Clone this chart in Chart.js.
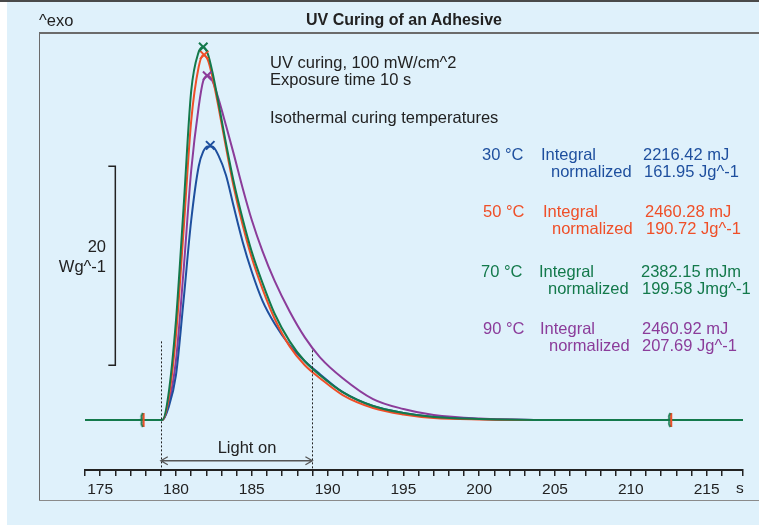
<!DOCTYPE html>
<html>
<head>
<meta charset="utf-8">
<script src="https://cdn.jsdelivr.net/npm/chart.js@4.4.1/dist/chart.umd.min.js"></script>
<style>
    body { margin: 0; background: #fff; }
    #wrap { position: relative; width: 759px; height: 525px; overflow: hidden;
            font-family: 'Liberation Sans', Arial, sans-serif; color: #222; }
    #panel { position: absolute; left: 7px; top: 0; width: 752px; height: 525px; background: #dff1fb; }
    .ln { position: absolute; }
    #chart { position: absolute; left: 0; top: 0; }
    .t { position: absolute; font-size: 16.5px; line-height: 16.5px; white-space: nowrap; }
    .c30 { color: #1e4f9e; } .c50 { color: #ef4f28; } .c70 { color: #13794b; } .c90 { color: #8b3c9a; }
</style>
</head>
<body>
<div id="wrap">
    <div id="panel"></div>
    <div class="ln" style="left:0;top:0;width:759px;height:2px;background:#4a4a4a"></div>
    <div class="ln" style="left:39px;top:32px;width:720px;height:2px;background:#6b6b6b"></div>
    <div class="ln" style="left:39px;top:32px;width:1px;height:469px;background:#6b6b6b"></div>
    <div class="ln" style="left:39px;top:500px;width:720px;height:1px;background:#8a8a8a"></div>
    <canvas id="chart" width="759" height="525"></canvas>

    <div class="t" style="left:39px;top:12px">^exo</div>
    <div class="t" style="left:404px;top:12px;transform:translateX(-50%);font-weight:bold;font-size:16px">UV Curing of an Adhesive</div>
    <div class="t" style="left:270px;top:53.5px">UV curing, 100 mW/cm^2</div>
    <div class="t" style="left:270px;top:71px">Exposure time 10 s</div>
    <div class="t" style="left:270px;top:109px">Isothermal curing temperatures</div>

    <div class="t" style="right:653px;top:238px">20</div>
    <div class="t" style="right:653px;top:257.5px">Wg^-1</div>
    <div class="t" style="left:247px;top:438.5px;transform:translateX(-50%)">Light on</div>
    <div class="t" style="left:736px;top:480px;font-size:15.5px">s</div>

    <div class="t c30" style="left:482px;top:146px">30 °C</div>
    <div class="t c30" style="left:541px;top:146px">Integral</div>
    <div class="t c30" style="left:643px;top:146px">2216.42 mJ</div>
    <div class="t c30" style="left:551px;top:163px">normalized</div>
    <div class="t c30" style="left:644px;top:163px">161.95 Jg^-1</div>

    <div class="t c50" style="left:483px;top:203px">50 °C</div>
    <div class="t c50" style="left:543px;top:203px">Integral</div>
    <div class="t c50" style="left:645px;top:203px">2460.28 mJ</div>
    <div class="t c50" style="left:552px;top:220px">normalized</div>
    <div class="t c50" style="left:646px;top:220px">190.72 Jg^-1</div>

    <div class="t c70" style="left:481px;top:263px">70 °C</div>
    <div class="t c70" style="left:539px;top:263px">Integral</div>
    <div class="t c70" style="left:641px;top:263px">2382.15 mJm</div>
    <div class="t c70" style="left:548px;top:280px">normalized</div>
    <div class="t c70" style="left:642px;top:280px">199.58 Jmg^-1</div>

    <div class="t c90" style="left:483px;top:320px">90 °C</div>
    <div class="t c90" style="left:540px;top:320px">Integral</div>
    <div class="t c90" style="left:642px;top:320px">2460.92 mJ</div>
    <div class="t c90" style="left:549px;top:337px">normalized</div>
    <div class="t c90" style="left:642px;top:337px">207.69 Jg^-1</div>
</div>
<script>
// Zeitachse (s) und Wärmestrom (W/g) je Härtungstemperatur
const times   = [174, 177.8, 179.1, 179.5, 180, 180.5, 181, 181.5, 181.8, 182.1, 182.4, 182.8, 183.3, 183.8, 184.4, 185, 185.7, 186.5, 187.5, 188.5, 189.5, 191, 193, 195, 197, 200, 205, 212.6, 217.4];
const heat30  = [0, 0, 0, 1.2, 4.5, 12, 20, 25.5, 27, 27.5, 27.5, 26.6, 24.6, 21.5, 17.9, 14.9, 12.0, 9.7, 7.5, 5.9, 4.6, 2.8, 1.4, 0.7, 0.3, 0.1, 0, 0, 0];
const heat50  = [0, 0, 0, 2, 8.5, 19, 30, 35.5, 36.7, 36.2, 34.5, 31.5, 27.4, 23.5, 19.6, 16.3, 13.2, 10.2, 7.4, 5.5, 4.2, 2.5, 1.2, 0.55, 0.2, 0.05, 0, 0, 0];
const heat70  = [0, 0, 0, 2.5, 10, 21.3, 33, 37, 37.5, 36.8, 35.0, 31.9, 27.8, 24.0, 20.2, 16.9, 13.8, 10.7, 7.9, 5.9, 4.5, 2.8, 1.4, 0.7, 0.3, 0.1, 0, 0, 0];
const heat90  = [0, 0, 0, 1.5, 6, 15, 25, 31.5, 34.1, 34.6, 34.1, 32.3, 29.6, 26.8, 23.3, 20.1, 17.0, 14.0, 10.9, 8.3, 6.3, 4.2, 2.1, 1.1, 0.5, 0.15, 0, 0, 0];

// Peakmaxima (30, 50, 70, 90 °C)
const peakTimes  = [182.26, 181.86, 181.8, 182.06];
const peakValues = [27.6, 36.7, 37.5, 34.6];

// Integrationsgrenzen
const limitTimes = [177.8, 212.6];
// Licht an / aus
const lightOn = [179, 189];

const colors = { c30: '#1e4f9e', c50: '#ef4f28', c70: '#13794b', c90: '#8b3c9a' };

const toXY = vals => times.map((t, i) => ({ x: t, y: vals[i] }));

// kleines Symbol für die Integrationsgrenzen
function limitSymbol() {
    const c = document.createElement('canvas');
    c.width = 10; c.height = 16;
    const g = c.getContext('2d');
    g.strokeStyle = colors.c50; g.lineWidth = 2;
    g.beginPath(); g.moveTo(6, 1); g.lineTo(6, 15); g.stroke();
    g.strokeStyle = colors.c70; g.lineWidth = 1.8;
    g.beginPath(); g.moveTo(5, 1); g.quadraticCurveTo(3, 4, 4, 7); g.lineTo(2, 8); g.stroke();
    g.beginPath(); g.moveTo(5, 15); g.quadraticCurveTo(3, 12, 4, 9); g.stroke();
    return c;
}

const curve = (label, vals, color) => ({
    type: 'line', label, data: toXY(vals), borderColor: color, borderWidth: 2,
    pointRadius: 0, cubicInterpolationMode: 'monotone', fill: false
});

const annotations = {
    id: 'annotations',
    afterDatasetsDraw(chart) {
        const { ctx, scales: { x, y }, chartArea } = chart;
        ctx.save();
        // Maßstab 20 W/g
        const bx = x.getPixelForValue(176);
        const b0 = y.getPixelForValue(5.5), b1 = y.getPixelForValue(25.5);
        ctx.strokeStyle = '#222'; ctx.lineWidth = 1.5;
        ctx.beginPath();
        ctx.moveTo(bx - 7, b1); ctx.lineTo(bx, b1); ctx.lineTo(bx, b0); ctx.lineTo(bx - 7, b0);
        ctx.stroke();

        // gestrichelte Linien Licht an/aus
        ctx.setLineDash([2, 2]); ctx.lineWidth = 1;
        const tops = [7.9, 7.0];
        lightOn.forEach((t, i) => {
            const px = Math.round(x.getPixelForValue(t)) + 0.5;
            ctx.beginPath();
            ctx.moveTo(px, y.getPixelForValue(tops[i]));
            ctx.lineTo(px, chartArea.bottom + 2);
            ctx.stroke();
        });
        ctx.setLineDash([]);

        // Pfeil
        const ay = y.getPixelForValue(-4.1);
        const a0 = x.getPixelForValue(lightOn[0]), a1 = x.getPixelForValue(lightOn[1]);
        ctx.strokeStyle = '#555'; ctx.lineWidth = 1.3;
        ctx.beginPath();
        ctx.moveTo(a0, ay); ctx.lineTo(a1, ay);
        ctx.moveTo(a0 + 7, ay - 4); ctx.lineTo(a0, ay); ctx.lineTo(a0 + 7, ay + 4);
        ctx.moveTo(a1 - 7, ay - 4); ctx.lineTo(a1, ay); ctx.lineTo(a1 - 7, ay + 4);
        ctx.stroke();
        ctx.restore();
    }
};

new Chart(document.getElementById('chart'), {
    data: {
        datasets: [
            {
                type: 'scatter', label: 'limits',
                data: limitTimes.map(t => ({ x: t, y: 0 })),
                pointStyle: limitSymbol(), pointRadius: 8
            },
            {
                type: 'scatter', label: 'peaks',
                data: peakTimes.map((t, i) => ({ x: t, y: peakValues[i] })),
                pointStyle: 'crossRot', pointRadius: 6, borderWidth: 2,
                borderColor: [colors.c30, colors.c50, colors.c70, colors.c90]
            },
            curve('70 °C', heat70, colors.c70),
            curve('50 °C', heat50, colors.c50),
            curve('30 °C', heat30, colors.c30),
            curve('90 °C', heat90, colors.c90)
        ]
    },
    options: {
        responsive: false,
        animation: false,
        devicePixelRatio: 1,
        layout: { padding: { left: 85, right: 16, top: 33, bottom: 25 } },
        plugins: { legend: { display: false }, tooltip: { enabled: false } },
        scales: {
            x: {
                type: 'linear', min: 174, max: 217.4,
                afterFit: s => { s.height = 30; },
                ticks: {
                    stepSize: 1, autoSkip: false, maxRotation: 0, padding: 4,
                    color: '#222', font: { family: "'Liberation Sans', Arial", size: 15.5 },
                    callback: v => (v % 5 === 0 ? v : '')
                },
                grid: { drawOnChartArea: false, drawTicks: true, tickLength: 6, color: '#222', lineWidth: 1.5 },
                border: { color: '#222', width: 2 }
            },
            y: { display: false, min: -5.03, max: 38.9 }
        }
    },
    plugins: [annotations]
});
</script>
</body>
</html>
